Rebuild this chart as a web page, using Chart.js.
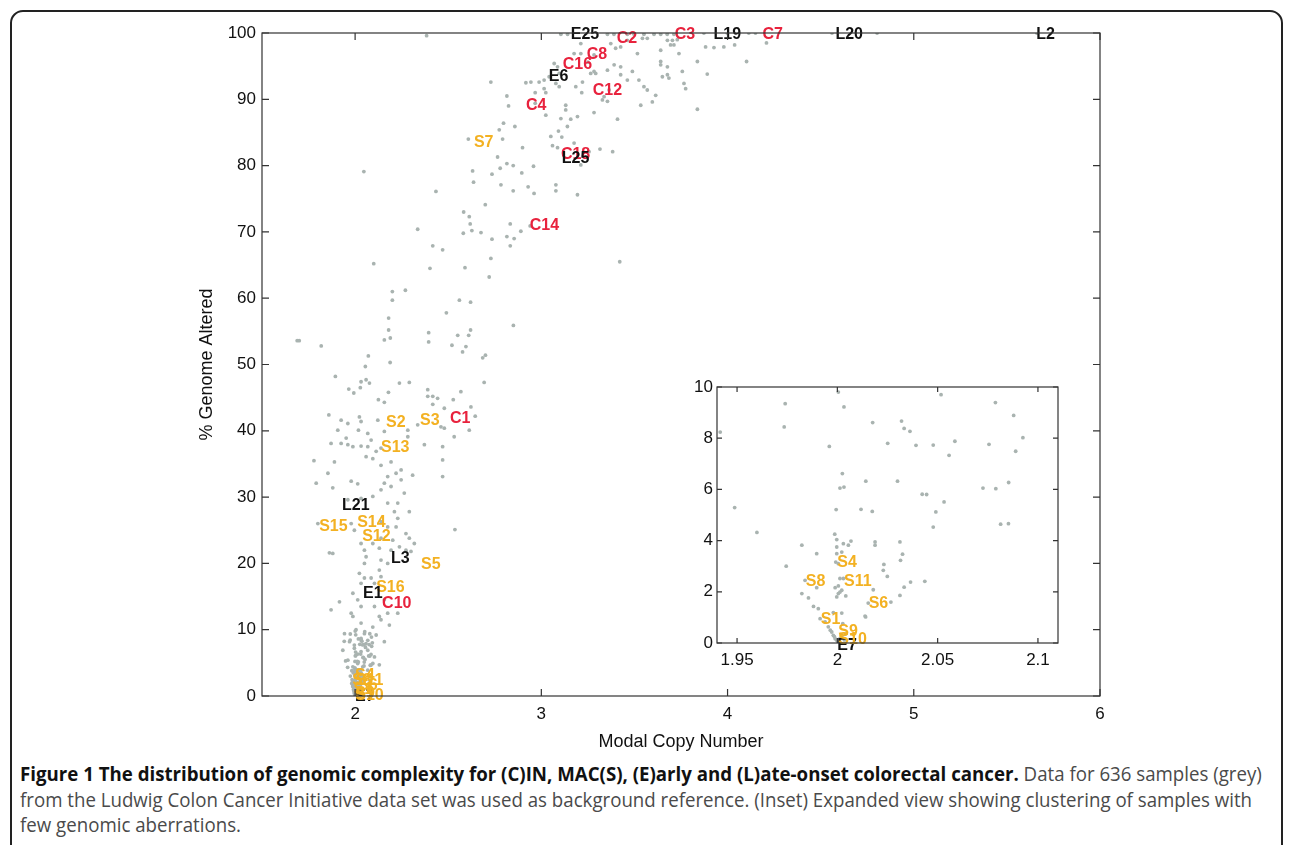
<!DOCTYPE html>
<html>
<head>
<meta charset="utf-8">
<script src="https://cdn.jsdelivr.net/npm/chart.js@4.4.1/dist/chart.umd.min.js"></script>
<style>
body { margin: 0; width: 1290px; height: 845px; overflow: hidden; background: #fff; position: relative; }
#frame { position: absolute; left: 10px; top: 10px; width: 1273px; height: 900px; border: 2px solid #222; border-radius: 13px; box-sizing: border-box; }
#main { position: absolute; left: 0; top: 0; width: 1290px; height: 760px; }
#inset { position: absolute; left: 660px; top: 370px; width: 410px; height: 310px; background: #fff; }
#caption { position: absolute; left: 20px; top: 761px; font-family: "Open Sans", sans-serif; font-size: 20px; line-height: 25.5px; color: #4a4a4a; white-space: nowrap; transform-origin: 0 0; }
#caption b { color: #111; }
</style>
</head>
<body>
<div id="frame"></div>
<div id="main"><canvas id="mainChart"></canvas></div>
<div id="inset"><canvas id="insetChart"></canvas></div>
<div id="caption">
  <div><span><b>Figure 1 The distribution of genomic complexity for (C)IN, MAC(S), (E)arly and (L)ate-onset colorectal cancer.</b> Data for 636 samples (grey)</span></div>
  <div><span id="refLine">from the Ludwig Colon Cancer Initiative data set was used as background reference. (Inset) Expanded view showing clustering of samples with</span></div>
  <div><span>few genomic aberrations.</span></div>
</div>
<script>
// tick values
var xTicks = [2, 3, 4, 5, 6];
var yTicks = [0, 10, 20, 30, 40, 50, 60, 70, 80, 90, 100];
var insetXTicks = [1.95, 2, 2.05, 2.1];
var insetYTicks = [0, 2, 4, 6, 8, 10];

// background samples [modal copy number, % genome altered]
var samplesUpper = [
  [2.384,99.6],[2.729,92.6],[2.815,90.5],[2.824,89.0],[2.797,86.4],[2.774,85.4],[2.858,85.9],[2.792,84.0],[2.608,84.0],
  [2.765,81.3],[2.899,82.7],[2.815,80.3],[2.849,80.0],[2.779,79.6],[2.631,79.2],[2.636,77.5],[2.735,78.7],[2.895,78.9],
  [2.958,79.9],[2.783,77.1],[2.849,76.2],[2.929,76.8],[2.961,75.8],[3.078,77.1],[3.078,76.2],[3.194,75.6],[2.434,76.1],
  [2.699,74.1],[2.583,73.0],[2.613,72.3],[2.618,71.2],[2.627,70.2],[2.581,69.8],[2.676,69.9],[2.833,71.2],[2.815,69.3],
  [2.854,69.0],[2.833,67.9],[2.735,68.9],[2.890,70.1],[2.940,70.9],[2.336,70.4],[2.417,67.9],[2.470,67.3],[2.729,66.0],
  [2.100,65.2],[2.402,64.5],[3.421,65.5],[2.047,79.1],
  [2.917,92.5],[2.944,92.6],[2.988,92.6],[3.015,92.9],[3.042,93.4],[3.069,95.4],[3.087,94.9],[3.096,93.9],[3.078,92.4],
  [3.096,91.9],[2.967,91.0],[3.015,91.6],[3.024,91.0],[2.967,89.4],[3.024,87.6],[3.105,87.1],[3.158,87.0],[3.194,87.4],
  [3.140,85.9],[3.092,85.2],[3.051,84.4],[3.110,84.3],[3.060,83.0],[3.087,82.7],[3.131,89.1],[3.131,88.4],[3.176,83.4],
  [3.212,80.1],[3.256,82.1],[3.315,82.5],[3.383,82.1],[3.409,87.0],[3.283,88.0]
];
var samplesTop = [
  [3.185,91.9],[3.221,92.6],[3.217,91.0],[3.283,94.2],[3.355,94.4],[3.391,95.2],[3.426,94.9],[3.426,93.7],[3.462,92.9],
  [3.489,94.2],[3.524,92.9],[3.551,91.9],[3.569,91.4],[3.614,90.6],[3.596,89.6],[3.534,89.1],[3.337,90.4],[3.355,89.7],
  [3.105,99.8],[3.141,99.8],[3.355,99.8],[3.390,99.8],[3.462,99.8],[3.498,99.8],[3.551,99.8],[3.605,99.8],[3.641,99.8],
  [3.676,99.8],[3.712,99.8],[3.176,96.9],[3.212,98.4],[3.250,95.6],
  [3.212,96.9],[3.283,96.7],[3.373,98.4],[3.399,97.7],[3.426,97.9],[3.462,98.9],[3.516,96.9],[3.543,99.2],[3.569,99.2],
  [3.641,97.4],[3.641,95.2],[3.677,93.7],[3.694,98.2],[3.730,99.0],[3.265,93.9],[3.292,93.9],[3.364,91.4],[3.328,89.9],
  [3.677,98.9],[3.704,98.9],[3.712,98.2],[3.739,96.9],[3.641,95.7],[3.677,94.9],[3.650,93.4],[3.685,93.2],[3.757,94.2],
  [3.766,92.4],[3.775,91.6],[3.838,95.7],[3.891,93.8],[3.838,88.5],[3.882,97.9],[3.927,97.8],[3.980,97.9],[4.038,98.2],
  [4.102,95.7],[4.209,98.5],
  [3.873,100],[3.998,100],[4.114,100],[4.150,100],[4.561,100],[4.803,100],[5.661,100]
];
var samplesMiddle = [
  [1.689,53.6],[1.700,53.6],[1.818,52.8],[1.894,48.2],[2.055,49.7],[2.071,51.3],[2.188,50.3],[2.157,53.7],[2.189,54.0],
  [2.395,54.8],[2.395,53.4],[2.551,54.4],[2.610,54.4],[2.577,51.9],[2.595,52.7],[2.685,51.0],[2.693,47.3],
  [1.966,46.3],[1.993,45.7],[2.028,46.5],[2.032,47.4],[2.059,47.7],[2.077,47.2],[2.125,44.7],[2.157,44.3],[2.179,45.8],
  [2.238,47.2],[2.291,47.3],[2.390,46.2],[2.390,45.2],[2.417,45.2],[2.443,44.9],[2.417,44.0],[2.479,43.4],[2.527,44.7],
  [2.568,45.9],[2.622,43.6],[2.645,42.2],
  [2.20,61.0],[2.20,59.7],[2.18,57.0],[2.18,55.2],[2.49,57.8],[2.52,52.9],[2.56,59.7],[2.59,64.6],[2.62,59.4],
  [2.62,55.2],[2.72,63.2],[2.85,55.9],[2.70,51.4],[2.27,61.2]
];
var samplesLower = [
  [1.859,42.4],[1.925,41.6],[1.907,40.1],[1.961,41.1],[2.023,42.1],[2.032,41.4],[2.122,41.6],[2.018,40.1],[2.068,39.6],
  [2.157,39.9],[2.283,40.1],[2.336,40.9],[2.461,40.6],[2.479,40.4],
  [1.871,38.1],[1.925,38.1],[1.952,38.9],[1.961,37.9],[1.988,37.6],[2.032,37.7],[2.068,37.6],[2.086,38.6],[2.113,36.9],
  [2.139,37.4],[2.283,39.1],[2.372,37.9],[2.470,37.6],[2.532,39.1],[2.613,40.1],
  [1.779,35.5],[1.889,35.3],[1.854,33.6],[1.791,32.1],[1.880,31.4],[1.979,32.4],[2.014,32.0],[2.059,36.1],[2.095,35.8],
  [2.139,34.8],[2.193,35.3],[2.220,33.6],[2.247,34.1],[2.309,33.3],[2.175,33.1],[2.157,32.1],[2.193,31.6],[2.247,32.6],
  [2.470,35.6],[2.470,33.1],
  [1.961,29.6],[2.032,29.8],[2.095,30.1],[2.139,31.1],[2.175,29.1],[2.229,29.1],[2.264,30.6],[2.291,27.8],[2.211,27.8],
  [2.229,26.8],
  [1.800,26.0],[1.979,26.0],[1.996,25.0],[2.139,26.3],[2.175,25.5],[2.220,25.5],[2.139,23.8],[2.202,23.5],[2.273,24.5],
  [2.291,23.8],[2.318,23.0],[2.300,21.8],[1.862,21.6],[1.880,21.5],[2.536,25.1],
  [2.032,23.0],[2.050,22.0],[2.059,21.0],[2.050,20.0],[2.095,23.0],[2.130,22.3],[2.139,20.5],[2.175,20.0],[2.193,22.0],
  [2.238,22.5],[2.273,22.0],
  [2.023,18.5],[2.032,17.0],[2.050,17.8],[2.086,17.8],[2.104,17.0],[2.130,19.0],[2.139,18.0],[1.988,15.5],[2.014,14.5],
  [1.871,13.0],[1.916,14.2],[1.979,12.5],[1.988,12.0],[2.032,13.5],[2.104,13.5],[2.130,12.0],[2.175,12.5],[2.229,12.5],
  [2.157,14.5],
  [1.943,9.4],[1.970,8.2],[2.005,10.0],[2.032,11.0],[2.050,9.4],[2.068,8.4],[2.095,10.4],[2.113,9.2],[2.139,11.5],
  [2.157,8.2],[2.184,10.7],[1.934,6.9],[1.996,7.2],[2.032,6.7],[2.068,6.9],[2.104,5.9],[1.961,5.4],[1.988,4.4],
  [2.014,4.9],[2.041,4.4],[2.068,3.9],[2.095,4.9],[2.130,4.7],[2.005,2.9],[2.041,2.9],[2.077,2.4]
];
// samples (few aberrations)
var samplesInset = [
  [1.9416,8.24],[1.9488,5.29],[1.9599,4.32],[1.9740,9.35],[1.9735,8.44],[1.9745,3.0],[1.9823,3.82],[1.9897,3.49],
  [1.9823,1.93],[1.9856,1.76],[1.9839,2.45],[1.9897,2.16],[1.9881,1.43],[1.9905,1.34],[1.9914,0.95],[1.9939,0.82],
  [1.9955,0.63],[1.9972,0.43],[1.998,0.30],[1.9989,0.17],[1.9997,0.11],[2.0005,0.04],[2.0013,0.17],[2.0022,0.23],
  [1.9985,0.25],[2.001,0.08],[2.0035,0.12],[1.9965,0.5],[2.004,0.35],
  [2.0005,9.80],[2.0033,9.22],[1.996,7.68],[2.0025,6.62],[2.0013,6.05],[2.0033,6.09],[1.9994,5.21],
  [1.9987,4.25],[1.9997,4.04],[1.9997,3.75],[1.9997,3.49],[2.0022,3.55],[2.003,3.88],[2.0068,3.98],[2.0055,3.82],
  [1.9992,3.16],[2.0005,3.1],
  [1.9989,2.16],[2.0005,2.23],[2.0013,1.99],[1.9997,1.80],[2.0005,1.93],[2.0022,2.06],[2.0042,1.84],[2.0013,2.52],
  [2.003,2.52],[1.998,1.19],[2.0022,1.17],[2.0027,0.76],
  [2.0118,5.22],[2.0142,6.32],[2.0188,3.95],[2.0188,3.82],[2.0174,5.14],[2.0176,8.61],[2.0251,7.80],[2.0300,6.32],
  [2.0320,8.67],[2.0333,8.38],[2.0362,8.27],[2.0392,7.72],[2.0423,5.81],[2.0445,5.80],[2.0478,7.73],[2.0517,9.70],
  [2.0557,7.33],[2.0532,5.51],[2.0491,5.12],[2.0478,4.53],[2.0586,7.88],[2.0756,7.76],[2.0726,6.05],[2.0790,6.03],
  [2.0788,9.39],[2.0879,8.89],[2.0889,7.49],[2.0925,8.02],[2.0854,6.27],[2.0814,4.64],[2.0853,4.66],
  [2.0232,3.07],[2.0229,2.84],[2.0249,2.60],[2.0312,3.95],[2.0325,3.47],[2.0315,3.23],[2.0312,1.86],[2.0333,2.18],
  [2.0365,2.38],[2.0436,2.41],[2.0179,2.08],[2.0141,1.02],[2.0138,1.05],[2.0154,1.56],[2.0267,1.60]
];

// labelled tumours (drawn in this order)
var labelNames = ['E25','C2','C3','L19','C7','L20','L2','C8','C16','E6','C12','C4','S7','C18','L25','C14',
  'C1','S3','S2','S13','L21','S15','S14','S12','L3','S5','S16','E1','C10',
  'E7','S4','S8','S11','S6','S1','S9','S10'];
var labelX = [3.158,3.405,3.716,3.925,4.188,4.579,5.657,3.244,3.115,3.04,3.276,2.917,2.638,3.105,3.11,2.938,
  2.509,2.349,2.166,2.139,1.93,1.807,2.011,2.038,2.193,2.354,2.113,2.043,2.145,
  2.0,2.0,1.9843,2.0033,2.0156,1.9917,2.0005,2.0005];
var labelY = [99.8,99.1,99.8,99.8,99.8,99.8,99.8,96.8,95.3,93.4,91.3,89.1,83.4,81.6,81.0,71.0,
  41.9,41.6,41.3,37.4,28.7,25.6,26.2,24.1,20.8,19.8,16.3,15.5,13.9,
  -0.12,3.14,2.38,2.38,1.52,0.91,0.43,0.13];

var dotColor = '#a9b3b0';
var groupColors = { C: '#e8223d', S: '#f3b122', E: '#111111', L: '#111111' };

function toPoints(list) {
  return list.map(function (p) { return { x: p[0], y: p[1] }; });
}

var frameTicks = {
  id: 'frameTicks',
  afterDraw: function (chart, args, opts) {
    var ctx = chart.ctx, a = chart.chartArea, x = chart.scales.x, y = chart.scales.y, len = opts.length;
    ctx.save();
    ctx.strokeStyle = '#333';
    ctx.lineWidth = 1.2;
    ctx.beginPath();
    x.ticks.forEach(function (t) {
      var px = x.getPixelForValue(t.value);
      ctx.moveTo(px, a.bottom); ctx.lineTo(px, a.bottom - len);
      ctx.moveTo(px, a.top); ctx.lineTo(px, a.top + len);
    });
    y.ticks.forEach(function (t) {
      var py = y.getPixelForValue(t.value);
      ctx.moveTo(a.left, py); ctx.lineTo(a.left + len, py);
      ctx.moveTo(a.right, py); ctx.lineTo(a.right - len, py);
    });
    ctx.stroke();
    ctx.strokeRect(a.left, a.top, a.right - a.left, a.bottom - a.top);
    ctx.restore();
  }
};

var sampleLabels = {
  id: 'sampleLabels',
  afterDatasetsDraw: function (chart) {
    var ctx = chart.ctx, x = chart.scales.x, y = chart.scales.y;
    ctx.save();
    ctx.font = 'bold 16px "Liberation Sans", Arial, sans-serif';
    ctx.textAlign = 'left';
    ctx.textBaseline = 'middle';
    labelNames.forEach(function (name, i) {
      if (labelX[i] < x.min || labelX[i] > x.max || labelY[i] < y.min - 0.5 || labelY[i] > y.max + 0.5) return;
      ctx.fillStyle = groupColors[name[0]];
      ctx.fillText(name, x.getPixelForValue(labelX[i]), y.getPixelForValue(labelY[i]));
    });
    ctx.restore();
  }
};

function axis(min, max, ticks, fontSize, pad, title, fit) {
  return {
    type: 'linear', min: min, max: max,
    afterBuildTicks: function (s) { s.ticks = ticks.map(function (v) { return { value: v }; }); },
    afterFit: fit,
    grid: { display: false, drawTicks: false },
    border: { display: false },
    ticks: {
      color: '#111', padding: pad,
      font: { family: '"Liberation Sans", Arial', size: fontSize },
      callback: function (v) { return String(+v.toFixed(4)); }
    },
    title: title
  };
}

Chart.defaults.animation = false;

new Chart(document.getElementById('mainChart'), {
  type: 'scatter',
  data: {
    datasets: [{
      data: toPoints(samplesUpper.concat(samplesTop, samplesMiddle, samplesLower, samplesInset)),
      backgroundColor: dotColor, borderWidth: 0, pointRadius: 1.9
    }]
  },
  options: {
    responsive: true, maintainAspectRatio: false,
    layout: { padding: { left: 196, top: 33, right: 190, bottom: 0 } },
    plugins: { legend: { display: false }, tooltip: { enabled: false }, frameTicks: { length: 7 } },
    scales: {
      x: axis(1.5, 6, xTicks, 17, 8,
        { display: true, text: 'Modal Copy Number', color: '#111', font: { family: '"Liberation Sans", Arial', size: 18 }, padding: { top: 0, bottom: 7 } },
        function (s) { s.height = 64; }),
      y: axis(0, 100, yTicks, 17, 6,
        { display: true, text: '% Genome Altered', color: '#111', font: { family: '"Liberation Sans", Arial', size: 18 }, padding: 0 },
        function (s) { s.width = 66; })
    }
  },
  plugins: [sampleLabels, frameTicks]
});

new Chart(document.getElementById('insetChart'), {
  type: 'scatter',
  data: {
    datasets: [{ data: toPoints(samplesInset), backgroundColor: dotColor, borderWidth: 0, pointRadius: 1.9 }]
  },
  options: {
    responsive: true, maintainAspectRatio: false,
    layout: { padding: { left: 0, top: 17, right: 12, bottom: 0 } },
    plugins: { legend: { display: false }, tooltip: { enabled: false }, frameTicks: { length: 5 } },
    scales: {
      x: axis(1.94, 2.11, insetXTicks, 17, 7, { display: false }, function (s) { s.height = 37; }),
      y: axis(0, 10, insetYTicks, 17, 4, { display: false }, function (s) { s.width = 57; })
    }
  },
  plugins: [sampleLabels, frameTicks]
});

// squeeze the caption to the condensed width of the figure text
document.fonts.ready.then(function () {
  var w = document.getElementById('refLine').getBoundingClientRect().width;
  document.getElementById('caption').style.transform = 'scaleX(' + (1232 / w) + ')';
});
</script>
</body>
</html>
